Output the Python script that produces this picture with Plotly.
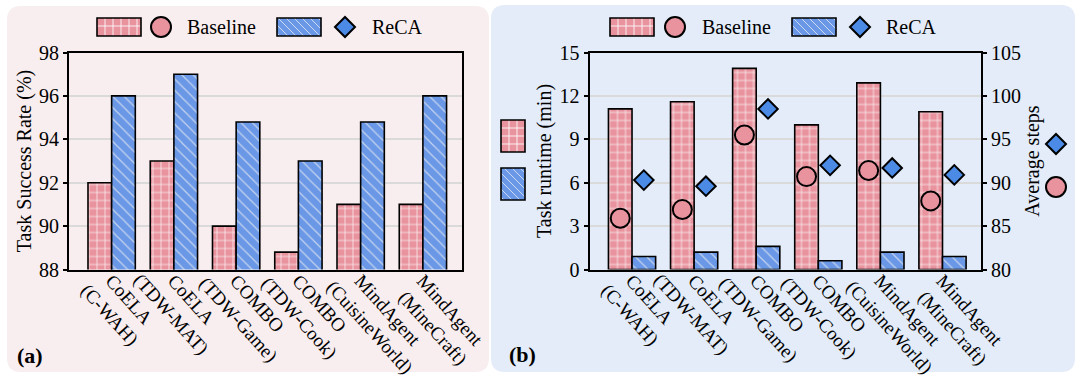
import plotly.graph_objects as go

# ---------------- data ----------------
methods = ["CoELA", "CoELA", "COMBO", "COMBO", "MindAgent", "MindAgent"]
environments = ["(C-WAH)", "(TDW-MAT)", "(TDW-Game)", "(TDW-Cook)", "(CuisineWorld)", "(MineCraft)"]
success_baseline = [92.0, 93.0, 90.0, 88.8, 91.0, 91.0]
success_reca = [96.0, 97.0, 94.8, 93.0, 94.8, 96.0]
runtime_baseline = [11.1, 11.6, 13.9, 10.0, 12.9, 10.9]
runtime_reca = [0.9, 1.2, 1.6, 0.6, 1.2, 0.9]
steps_baseline = [85.9, 86.9, 95.5, 90.7, 91.4, 87.9]
steps_reca = [90.3, 89.6, 98.5, 92.0, 91.7, 90.9]
series_names = ["Baseline", "ReCA"]

# ---------------- style ----------------
W, H = 1080, 380
FONT = "Liberation Serif, Times New Roman, serif"
PINK = "#E8939E"
BLUE = "#6A98E6"
DIAMOND = "#4C8BE5"
GRID = "#DADADA"
BG_A = "#F8EEEF"
BG_B = "#E3ECF8"
XFS = 19  # x tick label font size

idx = list(range(len(methods)))
OFF = 0.19

# Times/Liberation Serif advance widths (em) to centre the two label lines
CW = {"(": .333, ")": .333, "-": .333, "C": .667, "o": .5, "E": .611, "L": .611, "A": .722, "W": .944,
      "H": .722, "T": .611, "D": .722, "M": .889, "O": .722, "B": .667, "G": .722, "a": .444, "m": .778,
      "e": .444, "k": .5, "u": .5, "i": .278, "s": .389, "n": .5, "r": .333, "l": .278, "d": .5,
      "g": .5, "t": .278, "f": .333}


def tw(s):
    return sum(CW.get(ch, .5) for ch in s) * XFS


SP = 0.25 * XFS
PAD = 5
ticktext = []
for m, e in zip(methods, environments):
    d = (tw(e) - tw(m)) / 2
    p2 = max(0, round(PAD - d / SP))
    ticktext.append("\u00a0" * PAD + m + "<br>" + "\u00a0" * p2 + e)


def px(x):
    return x / W


def py(y):
    return 1 - y / H


pink_pattern = dict(shape="+", fgcolor="white", fgopacity=0.85, size=8, solidity=0.18, fillmode="overlay")
blue_pattern = dict(shape="\\", fgcolor="#DCE3F0", fgopacity=0.8, size=8, solidity=0.15, fillmode="overlay")

fig = go.Figure()

fig.add_trace(go.Bar(x=idx, y=success_baseline, name=series_names[0], xaxis="x", yaxis="y",
                     marker=dict(color=PINK, pattern=pink_pattern, line=dict(color="black", width=1.6)),
                     showlegend=False))
fig.add_trace(go.Bar(x=idx, y=success_reca, name=series_names[1], xaxis="x", yaxis="y",
                     marker=dict(color=BLUE, pattern=blue_pattern, line=dict(color="black", width=1.6)),
                     showlegend=False))
fig.add_trace(go.Bar(x=idx, y=runtime_baseline, name=series_names[0], xaxis="x2", yaxis="y2",
                     marker=dict(color=PINK, pattern=pink_pattern, line=dict(color="black", width=1.6)),
                     showlegend=False))
fig.add_trace(go.Bar(x=idx, y=runtime_reca, name=series_names[1], xaxis="x2", yaxis="y2",
                     marker=dict(color=BLUE, pattern=blue_pattern, line=dict(color="black", width=1.6)),
                     showlegend=False))
fig.add_trace(go.Scatter(x=[i - OFF for i in idx], y=steps_baseline, mode="markers", name=series_names[0],
                         xaxis="x2", yaxis="y3", showlegend=False,
                         marker=dict(symbol="circle", size=19, color=PINK, line=dict(color="black", width=2))))
fig.add_trace(go.Scatter(x=[i + OFF for i in idx], y=steps_reca, mode="markers", name=series_names[1],
                         xaxis="x2", yaxis="y3", showlegend=False,
                         marker=dict(symbol="diamond", size=15, color=DIAMOND, line=dict(color="black", width=2))))

# ---------------- decorations (panels, legends) ----------------
shapes = []
annotations = []


def rounded_rect(x0, y0, x1, y1, r, fill):
    X0, X1 = px(x0), px(x1)
    Y0, Y1 = py(y0), py(y1)
    rx, ry = r / W, r / H
    path = (f"M{X0 + rx},{Y0} L{X1 - rx},{Y0} Q{X1},{Y0} {X1},{Y0 - ry} "
            f"L{X1},{Y1 + ry} Q{X1},{Y1} {X1 - rx},{Y1} "
            f"L{X0 + rx},{Y1} Q{X0},{Y1} {X0},{Y1 + ry} "
            f"L{X0},{Y0 - ry} Q{X0},{Y0} {X0 + rx},{Y0} Z")
    shapes.append(dict(type="path", path=path, xref="paper", yref="paper",
                       fillcolor=fill, line=dict(width=0), layer="below"))


rounded_rect(7, 6, 489, 372, 14, BG_A)
rounded_rect(491, 5, 1075, 372, 14, BG_B)


def line(x0, y0, x1, y1, color, width):
    shapes.append(dict(type="line", xref="paper", yref="paper", x0=px(x0), y0=py(y0), x1=px(x1), y1=py(y1),
                       line=dict(color=color, width=width), layer="above"))


def patch(x0, y0, x1, y1, kind):
    fill = PINK if kind == "grid" else BLUE
    shapes.append(dict(type="rect", xref="paper", yref="paper", x0=px(x0), y0=py(y0), x1=px(x1), y1=py(y1),
                       fillcolor=fill, line=dict(width=0), layer="above"))
    step = 8
    if kind == "grid":
        x = x0 + step
        while x < x1 - 2:
            line(x, y0, x, y1, "rgba(255,255,255,0.85)", 1)
            x += step
        y = y0 + step
        while y < y1 - 2:
            line(x0, y, x1, y, "rgba(255,255,255,0.85)", 1)
            y += step
    else:
        w, h = x1 - x0, y1 - y0
        c = -h + 3
        while c < w:
            sx, sy = (x0 + c, y0) if c >= 0 else (x0, y0 - c)
            ex = min(x1, x0 + c + h)
            ey = y0 + (ex - x0 - c)
            line(sx, sy, ex, ey, "rgba(220,228,242,0.85)", 1)
            c += step
    shapes.append(dict(type="rect", xref="paper", yref="paper", x0=px(x0), y0=py(y0), x1=px(x1), y1=py(y1),
                       fillcolor="rgba(0,0,0,0)", line=dict(color="black", width=1.6), layer="above"))


def circle(cx, cy, r):
    shapes.append(dict(type="circle", xref="paper", yref="paper", x0=px(cx - r), x1=px(cx + r),
                       y0=py(cy + r), y1=py(cy - r), fillcolor=PINK,
                       line=dict(color="black", width=2), layer="above"))


def diamond(cx, cy, r):
    path = (f"M{px(cx - r)},{py(cy)} L{px(cx)},{py(cy - r)} L{px(cx + r)},{py(cy)} "
            f"L{px(cx)},{py(cy + r)} Z")
    shapes.append(dict(type="path", path=path, xref="paper", yref="paper", fillcolor=DIAMOND,
                       line=dict(color="black", width=2), layer="above"))


def text(x, y, s, size=20, bold=False, anchor="left"):
    annotations.append(dict(x=px(x), y=py(y), xref="paper", yref="paper", text=f"<b>{s}</b>" if bold else s,
                            showarrow=False, xanchor=anchor, yanchor="middle",
                            font=dict(family=FONT, size=size, color="black")))


for (p0, c0, t0, p1, d1, t1) in [(97, 161, 185, 277, 345, 370), (610, 675, 700, 792, 860, 884)]:
    patch(p0, 18, p0 + 44, 36, "grid")
    circle(c0, 27, 10)
    text(t0, 27, series_names[0])
    patch(p1, 18, p1 + 44, 36, "diag")
    diamond(d1, 27, 10)
    text(t1, 27, series_names[1])

patch(501, 120, 525, 152, "grid")
patch(501, 168, 525, 200, "diag")
diamond(1056, 144, 10)
circle(1056, 187, 10)

text(15, 355, "(a)", size=22, bold=True)
text(507, 354, "(b)", size=22, bold=True)

# ---------------- layout ----------------
ydom = [py(269.5), py(52.5)]
axis_common = dict(showline=True, linecolor="black", linewidth=2, ticks="outside", ticklen=4,
                   tickwidth=1.5, tickcolor="black", automargin=False,
                   tickfont=dict(family=FONT, size=20, color="black"))
xcommon = dict(axis_common, tickvals=idx, ticktext=ticktext, tickangle=48, range=[-0.685, 5.62],
               showgrid=False, zeroline=False, mirror=True, ticks="",
               ticklabelstandoff=-27, ticklabelshift=-16,
               tickfont=dict(family=FONT, size=XFS, color="black"))

fig.update_layout(
    width=W, height=H,
    margin=dict(l=0, r=0, t=0, b=0, autoexpand=False),
    paper_bgcolor="white",
    plot_bgcolor="white",
    barmode="group",
    bargap=0.24,
    bargroupgap=0,
    showlegend=False,
    font=dict(family=FONT, size=20, color="black"),
    xaxis=dict(xcommon, domain=[px(69), px(461.5)], anchor="y"),
    yaxis=dict(axis_common, domain=ydom, range=[88, 98], dtick=2, anchor="x", mirror=True,
               showgrid=True, gridcolor=GRID, gridwidth=1.5, zeroline=False,
               title=dict(text="Task Success Rate (%)", standoff=2,
                          font=dict(family=FONT, size=20, color="black"))),
    xaxis2=dict(xcommon, domain=[px(589.5), px(981)], anchor="y2"),
    yaxis2=dict(axis_common, domain=ydom, range=[0, 15], dtick=3, anchor="x2",
                showgrid=True, gridcolor=GRID, gridwidth=1.5, zeroline=False,
                title=dict(text="Task runtime (min)", standoff=3,
                           font=dict(family=FONT, size=20, color="black"))),
    yaxis3=dict(axis_common, domain=ydom, range=[80, 105], dtick=5, anchor="x2", overlaying="y2",
                side="right", showgrid=False, zeroline=False,
                title=dict(text="Average steps", standoff=3,
                           font=dict(family=FONT, size=20, color="black"))),
    shapes=shapes,
    annotations=annotations,
)

fig.write_html("out.html", config={"displayModeBar": False},
               post_script="document.body.style.margin='0px';document.body.style.overflow='hidden';")
